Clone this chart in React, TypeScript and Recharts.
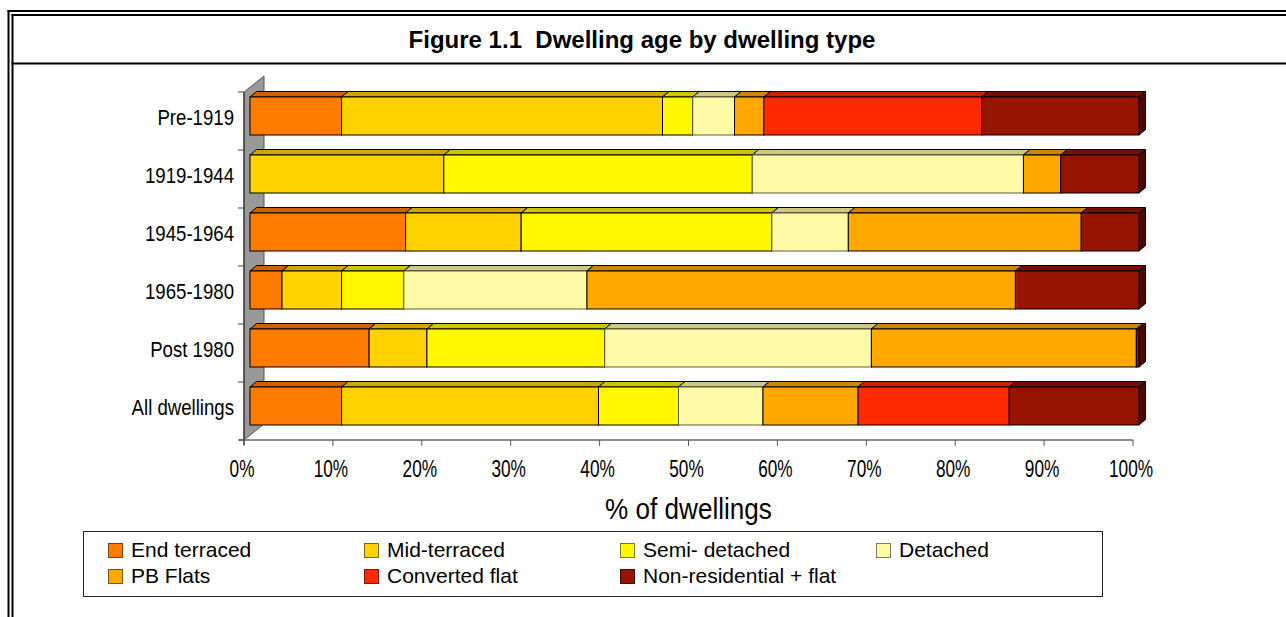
import React from "react";
import { BarChart, Bar, XAxis, YAxis, Legend } from "recharts";

// values, % of dwellings in each age band
const categories = ["Pre-1919", "1919-1944", "1945-1964", "1965-1980", "Post 1980", "All dwellings"];
const endTerraced = [10.3, 0, 17.5, 3.6, 13.4, 10.3];
const midTerraced = [36.1, 21.8, 13.0, 6.7, 6.5, 28.9];
const semiDetached = [3.4, 34.7, 28.2, 7.0, 20.0, 9.0];
const detached = [4.7, 30.5, 8.6, 20.6, 30.0, 9.5];
const pbFlats = [3.3, 4.2, 26.2, 48.2, 29.8, 10.7];
const convertedFlat = [24.5, 0, 0, 0, 0, 17.0];
const nonResidential = [17.7, 8.8, 6.5, 13.9, 0.3, 14.6];

const xTicks = [0, 10, 20, 30, 40, 50, 60, 70, 80, 90, 100];

const series = [
  { key: "endTerraced", name: "End terraced", values: endTerraced, fill: "#FF7C00", top: "#CC6300", side: "#803E00", stroke: "#000" },
  { key: "midTerraced", name: "Mid-terraced", values: midTerraced, fill: "#FFD200", top: "#CCA800", side: "#806900", stroke: "#000" },
  { key: "semiDetached", name: "Semi- detached", values: semiDetached, fill: "#FFF800", top: "#CCC600", side: "#807C00", stroke: "#000" },
  { key: "detached", name: "Detached", values: detached, fill: "#FFFAA8", top: "#CCC886", side: "#807D54", stroke: "#5c5a3c" },
  { key: "pbFlats", name: "PB Flats", values: pbFlats, fill: "#FFA800", top: "#CC8600", side: "#805400", stroke: "#000" },
  { key: "convertedFlat", name: "Converted flat", values: convertedFlat, fill: "#FF2A00", top: "#CC2200", side: "#801500", stroke: "#000" },
  { key: "nonResidential", name: "Non-residential + flat", values: nonResidential, fill: "#951500", top: "#741000", side: "#4A0A00", stroke: "#000" },
];

const data = categories.map((category, i) => {
  const row: Record<string, string | number> = { category };
  series.forEach((s) => (row[s.key] = s.values[i]));
  return row;
});

const W = 1286;
const H = 617;
const PLOT_LEFT = 250;
const PLOT_RIGHT = 1139;
const PLOT_TOP = 87;
const PLOT_BOTTOM = 435;
const Y_AXIS_W = 100;
const X_AXIS_H = 60;
// bar plane sits a little behind the floor front edge
const FRONT_DX = 6;
const FRONT_DY = 5;
const BAR_DX = 6.5;
const BAR_DY = 5.5;
const WALL_DX = 20;
const WALL_DY = 16;

const SANS = "'Liberation Sans', Arial, Helvetica, sans-serif";

function Box3D(props: any) {
  const { x, y, width, height, fill, top, side, stroke } = props;
  if (!width || width <= 0) return null;
  const x2 = x + width;
  const y2 = y + height;
  return (
    <g>
      <polygon
        points={`${x2},${y} ${x2 + BAR_DX},${y - BAR_DY} ${x2 + BAR_DX},${y2 - BAR_DY} ${x2},${y2}`}
        fill={side}
        stroke="#000"
        strokeWidth={1}
      />
      <polygon
        points={`${x},${y} ${x + BAR_DX},${y - BAR_DY} ${x2 + BAR_DX},${y - BAR_DY} ${x2},${y}`}
        fill={top}
        stroke="#000"
        strokeWidth={1}
      />
      <rect x={x} y={y} width={width} height={height} fill={fill} stroke={stroke} strokeWidth={1} />
    </g>
  );
}

// the original uses a tall, squeezed font for the axis labels
function CategoryTick(props: any) {
  const { x, y, payload } = props;
  return (
    <text
      transform={`translate(${x},${y + 9}) scale(0.81,1)`}
      textAnchor="end"
      fontFamily={SANS}
      fontSize={23}
      fill="#000"
    >
      {payload.value}
    </text>
  );
}

function PercentTick(props: any) {
  const { x, y, payload } = props;
  const fx = x - FRONT_DX;
  return (
    <g>
      <line x1={fx} y1={y - 1} x2={fx} y2={y + 5} stroke="#555" strokeWidth={1} />
      <text
        transform={`translate(${fx - 2},${y + 36}) scale(0.75,1)`}
        textAnchor="middle"
        fontFamily={SANS}
        fontSize={23}
        fill="#000"
      >
        {`${payload.value}%`}
      </text>
    </g>
  );
}

function AxisTitle(props: any) {
  const { viewBox } = props;
  const cx = viewBox.x + viewBox.width / 2 - FRONT_DX;
  return (
    <text
      transform={`translate(${cx},${viewBox.y + 84}) scale(0.9,1)`}
      textAnchor="middle"
      fontFamily={SANS}
      fontSize={29}
      fill="#000"
    >
      % of dwellings
    </text>
  );
}

function LegendBox() {
  return (
    <div
      style={{
        position: "relative",
        width: 1020,
        height: 66,
        border: "1px solid #222",
        boxSizing: "border-box",
        background: "#fff",
        fontFamily: SANS,
        fontSize: 21,
        color: "#000",
      }}
    >
      {series.map((s, i) => (
        <div
          key={s.key}
          style={{
            position: "absolute",
            left: 24 + (i % 4) * 256,
            top: 5 + Math.floor(i / 4) * 26,
            display: "flex",
            alignItems: "center",
            height: 26,
            whiteSpace: "nowrap",
          }}
        >
          <span
            style={{
              display: "inline-block",
              width: 13,
              height: 13,
              background: s.fill,
              border: `1px solid ${s.side}`,
              marginRight: 8,
            }}
          />
          <span>{s.name}</span>
        </div>
      ))}
    </div>
  );
}

function Background() {
  const band = (PLOT_BOTTOM - PLOT_TOP) / categories.length;
  const fx = PLOT_LEFT - FRONT_DX;
  const fTop = PLOT_TOP + FRONT_DY;
  const fBottom = PLOT_BOTTOM + FRONT_DY;
  const fRight = PLOT_RIGHT - FRONT_DX;
  return (
    <svg width={W} height={H} style={{ position: "absolute", left: 0, top: 0 }}>
      {/* frame */}
      <rect x={7.5} y={10} width={2} height={H} fill="#000" />
      <rect x={11.5} y={14} width={2} height={H} fill="#000" />
      <rect x={7.5} y={10} width={W} height={2} fill="#000" />
      <rect x={11.5} y={14} width={W} height={2} fill="#000" />
      <rect x={11.5} y={62.5} width={W} height={2} fill="#000" />
      <text x={642} y={48} textAnchor="middle" fontFamily={SANS} fontWeight="bold" fontSize={24} fill="#000">
        Figure 1.1{"\u00a0\u00a0"}Dwelling age by dwelling type
      </text>
      {/* 3-D wall */}
      <polygon
        points={`${fx},${fTop} ${fx + WALL_DX},${fTop - WALL_DY} ${fx + WALL_DX},${fBottom - WALL_DY} ${fx},${fBottom}`}
        fill="#999999"
        stroke="#555"
        strokeWidth={1}
      />
      <line x1={fx} y1={fTop} x2={fx} y2={fBottom + 5} stroke="#444" strokeWidth={1.5} />
      <line x1={fx - 5} y1={fBottom} x2={fRight} y2={fBottom} stroke="#666" strokeWidth={1.5} />
      {categories.concat([""]).map((_, k) => (
        <line
          key={k}
          x1={fx - 6}
          x2={fx}
          y1={fTop + k * band}
          y2={fTop + k * band}
          stroke="#444"
          strokeWidth={1}
        />
      ))}
    </svg>
  );
}

export default function App() {
  return (
    <div style={{ position: "absolute", left: 0, top: 0, width: W, height: H, background: "#fff", overflow: "hidden" }}>
      <Background />
      <div style={{ position: "absolute", left: 0, top: 0 }}>
        <BarChart
          width={W}
          height={H}
          data={data}
          layout="vertical"
          barSize={38}
          margin={{
            top: PLOT_TOP,
            right: W - PLOT_RIGHT,
            left: PLOT_LEFT - Y_AXIS_W,
            bottom: H - PLOT_BOTTOM - X_AXIS_H,
          }}
        >
          <XAxis
            type="number"
            domain={[0, 100]}
            ticks={xTicks}
            interval={0}
            axisLine={false}
            tickLine={false}
            tickSize={0}
            tickMargin={6}
            height={X_AXIS_H}
            tick={<PercentTick />}
            label={<AxisTitle />}
          />
          <YAxis
            type="category"
            dataKey="category"
            width={Y_AXIS_W}
            axisLine={false}
            tickLine={false}
            tickSize={0}
            tickMargin={16}
            interval={0}
            tick={<CategoryTick />}
          />
          <Legend
            layout="horizontal"
            verticalAlign="middle"
            align="center"
            wrapperStyle={{ left: 83, top: 531, width: 1020, height: 66 }}
            content={<LegendBox />}
          />
          {series.map((s) => (
            <Bar
              key={s.key}
              dataKey={s.key}
              name={s.name}
              stackId="age"
              fill={s.fill}
              isAnimationActive={false}
              shape={(p: any) => <Box3D {...p} fill={s.fill} top={s.top} side={s.side} stroke={s.stroke} />}
            />
          ))}
        </BarChart>
      </div>
    </div>
  );
}
